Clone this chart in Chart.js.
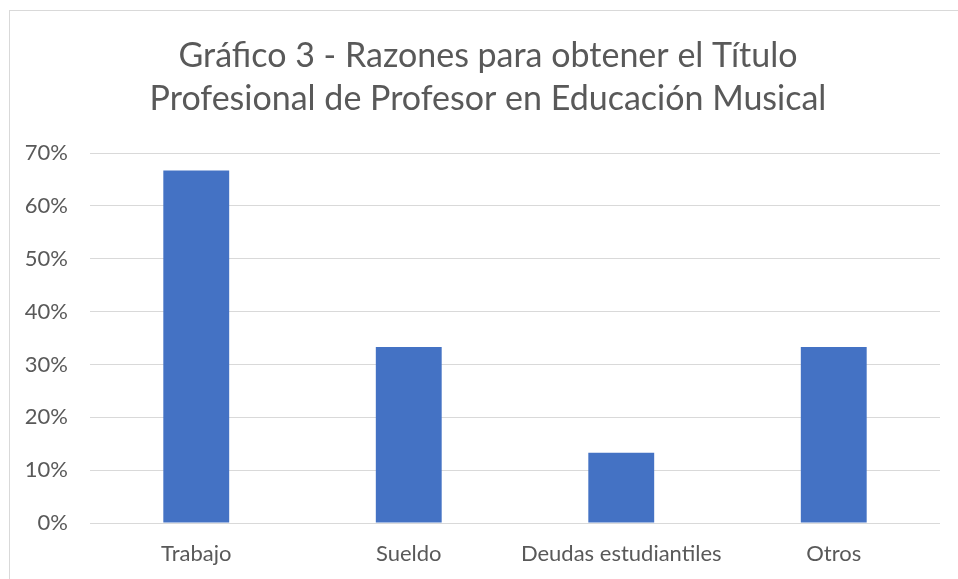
<!DOCTYPE html>
<html>
<head>
<meta charset="utf-8">
<script src="https://cdn.jsdelivr.net/npm/chart.js@4/dist/chart.umd.min.js"></script>
<style>
html,body{margin:0;padding:0;background:#fff;}
#wrap{position:relative;width:958px;height:579px;overflow:hidden;}
#frame{position:absolute;left:9px;top:10px;width:1000px;height:700px;border:1px solid #d9d9d9;box-sizing:border-box;}
#box{position:absolute;left:0;top:0;width:976px;height:579px;}
</style>
</head>
<body>
<div id="wrap">
<div id="frame"></div>
<div id="box"><canvas id="c"></canvas></div>
</div>
<script>
const titleLines = ["Gráfico 3 - Razones para obtener el Título", "Profesional de Profesor en Educación Musical"];
const categories = ["Trabajo", "Sueldo", "Deudas estudiantiles", "Otros"];
const values = [66.7, 33.3, 13.3, 33.3];
const yTicks = [0, 10, 20, 30, 40, 50, 60, 70];

const font = "Lato, 'Open Sans', sans-serif";
new Chart(document.getElementById('c'), {
  type: 'bar',
  data: {
    labels: categories,
    datasets: [{
      data: values,
      backgroundColor: '#4472c4',
      borderWidth: 0,
      categoryPercentage: 1,
      barPercentage: 0.31
    }]
  },
  options: {
    responsive: true,
    maintainAspectRatio: false,
    animation: false,
    layout: {padding: {left: 0, right: 0, top: 25, bottom: 0}},
    plugins: {
      legend: {display: false},
      tooltip: {enabled: false},
      title: {
        display: true,
        text: titleLines,
        color: '#595959',
        font: {family: font, size: 34, weight: 'normal', lineHeight: 1.265},
        padding: {top: 10, bottom: 32}
      }
    },
    scales: {
      x: {
        grid: {display: false, drawTicks: false},
        border: {display: false},
        ticks: {color: '#595959', font: {family: font, size: 22}, padding: 18, maxRotation: 0},
        afterFit: s => { s.height = 56; }
      },
      y: {
        min: 0, max: 70,
        afterBuildTicks: s => { s.ticks = yTicks.map(v => ({value: v})); },
        afterFit: s => { s.width = 90; },
        grid: {color: '#d9d9d9', lineWidth: 1, drawTicks: false},
        border: {display: false},
        ticks: {color: '#595959', font: {family: font, size: 22}, padding: 22, callback: v => v + '%'}
      },
      yr: {
        position: 'right',
        display: true,
        min: 0, max: 70,
        grid: {display: false, drawTicks: false},
        border: {display: false},
        ticks: {display: false},
        afterFit: s => { s.width = 36; }
      }
    }
  }
});
</script>
</body>
</html>
